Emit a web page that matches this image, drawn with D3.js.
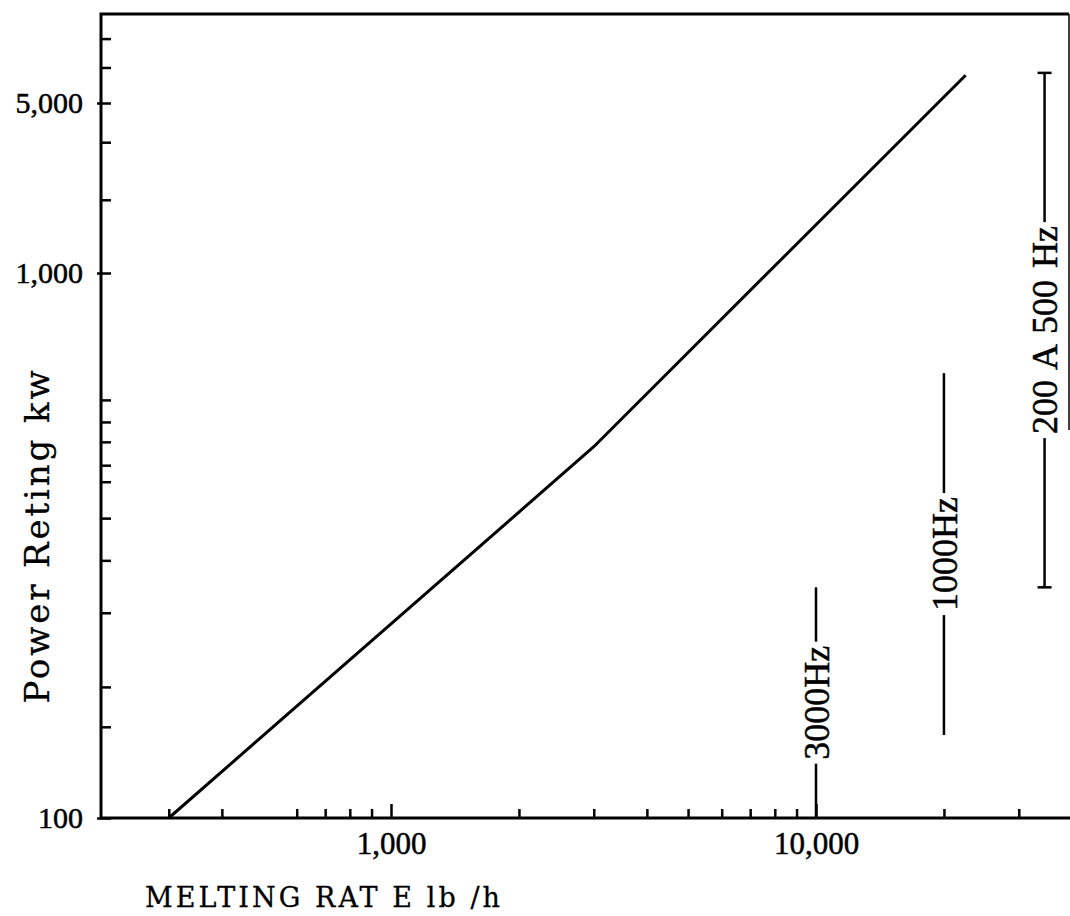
<!DOCTYPE html>
<html>
<head>
<meta charset="utf-8">
<script src="https://cdn.jsdelivr.net/npm/d3@7"></script>
<style>
  html, body { margin: 0; padding: 0; background: #fff; }
  svg { display: block; }
  text { fill: #000; stroke: #000; }
</style>
</head>
<body>
<div id="chart"></div>
<script>
// melting rate (lb/h) vs power rating (kw)
const meltRate = [300, 3000, 22500];
const powerKw = [100, 480, 6500];

// frequency ranges drawn as vertical bars on the right
const bandNames = ["3000Hz", "1000Hz", "200 A 500 Hz"];
const bandRate = [10000, 20000, 34500];
const bandLow = [100, 142, 265];
const bandHigh = [265, 655, 6650];
const bandCaps = [false, false, true];

// axis ticks (the y axis of the original is not evenly spaced)
const xMinorTicks = [300, 400, 600, 700, 800, 900, 2000, 3000, 4000, 5000, 6000, 7000, 8000, 9000, 20000, 30000];
const xMajorTicks = [1000, 10000];
const yMinorTicks = [147, 174, 238, 297, 355, 414, 444, 490, 533, 585, 2000, 3450, 7000, 9200];
const yLabelTicks = [100, 1000, 5000];

const width = 1070;
const height = 916;
const frameLeft = 101, frameRight = 1069, frameTop = 14, frameBottom = 818;
const serif = "'Liberation Serif', 'Times New Roman', serif";
const wideSerif = "'DejaVu Serif', serif";

const x = d3.scaleLog()
    .domain([1000, 10000])
    .range([391, 816]);

// piecewise log scale: the upper decade is squeezed in the original
const y = d3.scaleLog()
    .domain([100, 1000, 5000])
    .range([818, 273, 103]);

const svg = d3.select("#chart").append("svg")
    .attr("width", width)
    .attr("height", height)
    .attr("viewBox", [0, 0, width, height]);

// frame: left, bottom, top and the partly visible right edge
const frame = svg.append("g")
    .attr("stroke", "#000")
    .attr("fill", "none");
frame.append("path")
    .attr("stroke-width", 3)
    .attr("d", `M${frameLeft},${frameBottom}V${frameTop}H${frameRight}`);
frame.append("path")
    .attr("stroke-width", 3)
    .attr("d", `M${frameLeft - 1},${frameBottom}H${width}`);
frame.append("path")
    .attr("stroke-width", 1.5)
    .attr("d", `M${frameRight},${frameTop}V430`);

// y axis ticks, pointing into the plot
svg.append("g")
    .attr("transform", `translate(${frameLeft},0)`)
    .call(d3.axisRight(y).tickValues(yMinorTicks).tickSize(10).tickFormat(""))
    .call(g => g.select(".domain").remove())
    .call(g => g.selectAll("line").attr("stroke-width", 2.5));

svg.append("g")
    .attr("transform", `translate(${frameLeft},0)`)
    .call(d3.axisRight(y).tickValues(yLabelTicks).tickSize(10).tickFormat(""))
    .call(g => g.select(".domain").remove())
    .call(g => g.selectAll("line").attr("stroke-width", 2.5));

svg.append("g")
    .attr("transform", `translate(${frameLeft},0)`)
    .call(d3.axisLeft(y).tickValues(yLabelTicks).tickSize(4).tickPadding(14).tickFormat(d3.format(",")))
    .call(g => g.select(".domain").remove())
    .call(g => g.selectAll("line").attr("stroke-width", 2.5))
    .call(g => g.selectAll("text")
        .style("font-family", serif)
        .style("font-size", "30px")
        .style("stroke-width", "0.5px"));

// x axis ticks, pointing up
svg.append("g")
    .attr("transform", `translate(0,${frameBottom})`)
    .call(d3.axisTop(x).tickValues(xMinorTicks).tickSize(9).tickFormat(""))
    .call(g => g.select(".domain").remove())
    .call(g => g.selectAll("line").attr("stroke-width", 2.5));

svg.append("g")
    .attr("transform", `translate(0,${frameBottom})`)
    .call(d3.axisTop(x).tickValues(xMajorTicks).tickSize(14).tickFormat(""))
    .call(g => g.select(".domain").remove())
    .call(g => g.selectAll("line").attr("stroke-width", 2.5));

svg.append("g")
    .attr("transform", `translate(0,${frameBottom})`)
    .call(d3.axisBottom(x).tickValues(xMajorTicks).tickSize(0).tickPadding(14).tickFormat(d3.format(",")))
    .call(g => g.select(".domain").remove())
    .call(g => g.selectAll("text")
        .style("font-family", serif)
        .style("font-size", "31px")
        .style("stroke-width", "0.5px"));

// the curve
const line = d3.line()
    .x((d, i) => x(meltRate[i]))
    .y(d => y(d));

svg.append("path")
    .datum(powerKw)
    .attr("fill", "none")
    .attr("stroke", "#000")
    .attr("stroke-width", 3)
    .attr("stroke-linejoin", "round")
    .attr("d", line);

// frequency bars with their labels set into a gap
bandNames.forEach((name, i) => {
  const bx = x(bandRate[i]);
  const y0 = y(bandLow[i]);
  const y1 = y(bandHigh[i]);
  const mid = (y0 + y1) / 2;

  const label = svg.append("text")
      .attr("transform", `translate(${bx},${mid}) rotate(-90)`)
      .attr("text-anchor", "middle")
      .attr("dy", "0.35em")
      .style("font-family", serif)
      .style("font-size", "36px")
      .style("word-spacing", "3px")
      .style("stroke-width", "0.5px")
      .text(name);
  const half = label.node().getComputedTextLength() / 2 + 4;

  const g = svg.append("g")
      .attr("stroke", "#000")
      .attr("stroke-width", 2.5)
      .attr("fill", "none");
  g.append("line")
      .attr("x1", bx).attr("x2", bx)
      .attr("y1", y0).attr("y2", mid + half);
  g.append("line")
      .attr("x1", bx).attr("x2", bx)
      .attr("y1", mid - half).attr("y2", y1);

  if (bandCaps[i]) {
    [y0, y1].forEach(cy => {
      g.append("line")
          .attr("x1", bx - 7).attr("x2", bx + 7)
          .attr("y1", cy).attr("y2", cy);
    });
  }
});

// axis titles
svg.append("text")
    .attr("x", 145)
    .attr("y", 907)
    .attr("textLength", 355)
    .attr("lengthAdjust", "spacing")
    .style("font-family", wideSerif)
    .style("font-size", "27px")
    .style("stroke-width", "0.3px")
    .text("MELTING RAT E lb /h");

svg.append("text")
    .attr("transform", "translate(49,537) rotate(-90)")
    .attr("text-anchor", "middle")
    .attr("textLength", 333)
    .attr("lengthAdjust", "spacing")
    .style("font-family", wideSerif)
    .style("font-size", "34px")
    .style("stroke-width", "0.3px")
    .text("Power Reting kw");
</script>
</body>
</html>
